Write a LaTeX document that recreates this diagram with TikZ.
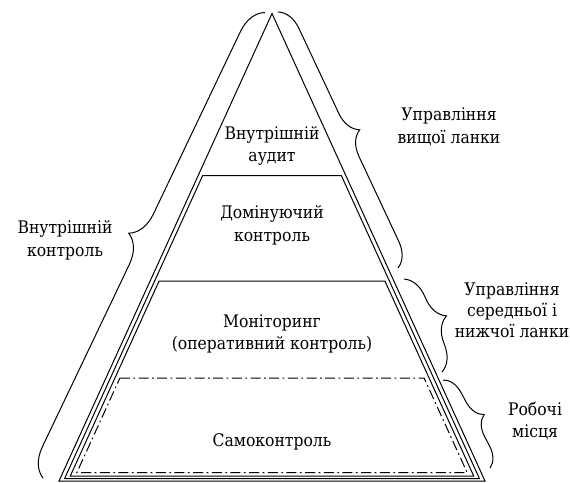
\documentclass[tikz,border=0pt]{standalone}
\usepackage{fontspec}
\setmainfont{DejaVu Serif Condensed}
\newfontfamily\reffont{DejaVu Serif Condensed}
\usetikzlibrary{decorations.pathreplacing}
\begin{document}
\begin{tikzpicture}[x=0.75pt,y=-0.75pt, line width=0.75pt,
  lbl/.style={align=center, font=\reffont\fontsize{13}{17}\selectfont, inner sep=0pt},
  lbltight/.style={align=center, font=\reffont\fontsize{13}{15.6}\selectfont, inner sep=0pt},
  brc/.style={decorate, decoration={brace, amplitude=#1}},
  dashdotline/.style={dash pattern=on 7.5pt off 2.6pt on 1.3pt off 2.6pt}]
\useasboundingbox (0,0) rectangle (570,482);
% outer triangle
\coordinate (A) at (272,13.5);
\coordinate (BL) at (59,481);
\coordinate (BR) at (485,481);
\draw (A) -- (BL) -- (BR) -- cycle;
% level 2 trapezoid
\coordinate (t2a) at (202.7,175.5);
\coordinate (t2b) at (341.3,175.5);
\coordinate (t2c) at (479.4,478.5);
\coordinate (t2d) at (64.6,478.5);
\draw (t2a) -- (t2b) -- (t2c) -- (t2d) -- cycle;
% level 3 trapezoid
\coordinate (t3a) at (159.1,281);
\coordinate (t3b) at (384.9,281);
\coordinate (t3c) at (473.7,476);
\coordinate (t3d) at (70.3,476);
\draw (t3a) -- (t3b) -- (t3c) -- (t3d) -- cycle;
% dash-dot trapezoid
\coordinate (t4a) at (119.9,378);
\coordinate (t4b) at (424.1,378);
\coordinate (t4c) at (467.1,472.5);
\coordinate (t4d) at (76.9,472.5);
\draw[dashdotline] (t4a) -- (t4b) -- (t4c) -- (t4d) -- cycle;
% labels inside
\node[lbl] (audit) at (272,146) {Внутрішній\\аудит};
\node[lbl] (dom) at (272,225) {Домінуючий\\контроль};
\node[lbl] (mon) at (272,334) {Моніторинг\\(оперативний контроль)};
\node[lbl] (self) at (272,442) {Самоконтроль};
% side labels
\node[lbl] (inner) at (65,240) {Внутрішній\\контроль};
\node[lbl] (top) at (449,127) {Управління\\вищої ланки};
\node[lbltight] (mid) at (512,310) {Управління\\середньої і\\нижчої ланки};
\node[lbl] (work) at (535,421) {Робочі\\місця};
% braces
\coordinate (lb1) at (43,478);
\coordinate (lb2) at (265,12.5);
\draw[brc=21pt] (lb1) -- (lb2);
\coordinate (rb1) at (278,12);
\coordinate (rb2) at (398,268);
\draw[brc=18pt] (rb1) -- (rb2);
\coordinate (rc1) at (404,279);
\coordinate (rc2) at (442,372);
\draw[brc=19pt] (rc1) -- (rc2);
\coordinate (rd1) at (443,380);
\coordinate (rd2) at (490,468);
\draw[brc=15pt] (rd1) -- (rd2);
\end{tikzpicture}
\end{document}
